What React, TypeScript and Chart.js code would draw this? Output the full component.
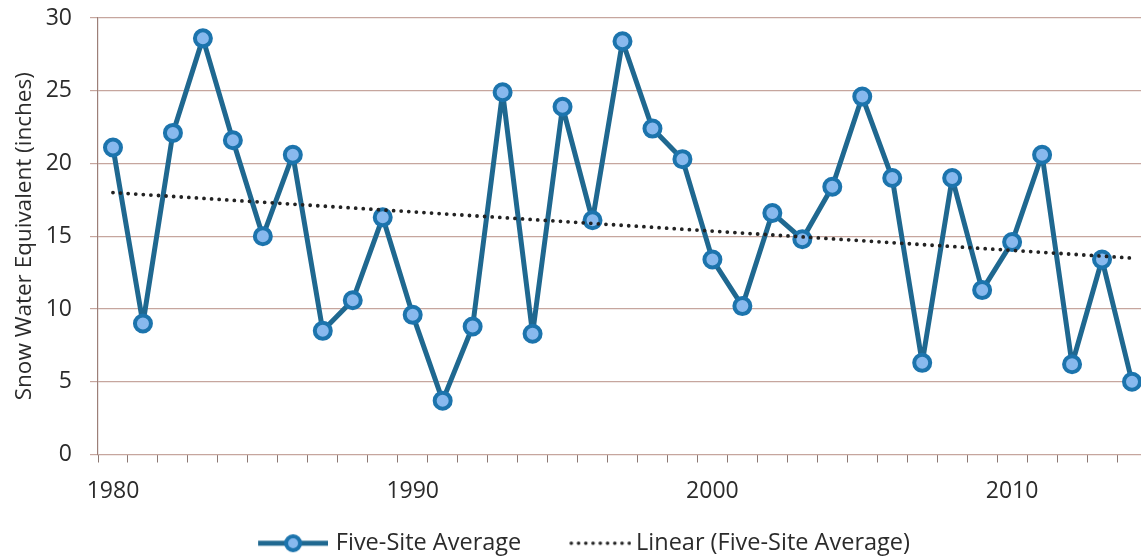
import React, { useEffect, useRef } from "react";
import { Chart, registerables } from "chart.js";

Chart.register(...registerables);

const years: number[] = [
  1980, 1981, 1982, 1983, 1984, 1985, 1986, 1987, 1988, 1989,
  1990, 1991, 1992, 1993, 1994, 1995, 1996, 1997, 1998, 1999,
  2000, 2001, 2002, 2003, 2004, 2005, 2006, 2007, 2008, 2009,
  2010, 2011, 2012, 2013, 2014,
];
const fiveSiteAverage: number[] = [
  21.1, 9.0, 22.1, 28.6, 21.6, 15.0, 20.6, 8.5, 10.6, 16.3,
  9.6, 3.7, 8.8, 24.9, 8.3, 23.9, 16.1, 28.4, 22.4, 20.3,
  13.4, 10.2, 16.6, 14.8, 18.4, 24.6, 19.0, 6.3, 19.0, 11.3,
  14.6, 20.6, 6.2, 13.4, 5.0,
];
const trendYears: number[] = [1980, 2014];
const trendValues: number[] = [18.0, 13.5];
const xLabelYears: number[] = [1980, 1990, 2000, 2010];
const yTicks: number[] = [0, 5, 10, 15, 20, 25, 30];

const LINE_COLOR = "#1f6890";
const POINT_BORDER = "#1c74ad";
const POINT_FILL = "#88b9ee";
const GRID_COLOR = "#c6a69e";
const TEXT_COLOR = "#2b2b2b";
const FONT = "'Open Sans', sans-serif";

const LEGEND_BOX = 99;

function makeSeriesIcon(): HTMLCanvasElement {
  const c = document.createElement("canvas");
  const w = LEGEND_BOX + 7.5;
  c.width = Math.round(w);
  c.height = 24;
  const ctx = c.getContext("2d")!;
  const x1 = c.width;
  const x0 = x1 - 70;
  ctx.strokeStyle = LINE_COLOR;
  ctx.lineWidth = 5;
  ctx.beginPath();
  ctx.moveTo(x0, 12);
  ctx.lineTo(x1, 12);
  ctx.stroke();
  ctx.beginPath();
  ctx.arc((x0 + x1) / 2, 12, 7, 0, Math.PI * 2);
  ctx.fillStyle = POINT_FILL;
  ctx.fill();
  ctx.lineWidth = 4;
  ctx.strokeStyle = POINT_BORDER;
  ctx.stroke();
  return c;
}

function makeTrendIcon(): HTMLCanvasElement {
  const c = document.createElement("canvas");
  c.width = Math.round(LEGEND_BOX + 13.5);
  c.height = 24;
  const ctx = c.getContext("2d")!;
  ctx.fillStyle = "#222";
  const end = c.width - 2;
  for (let i = 0; i < 9; i++) {
    const x = end - 58 + i * 7.25;
    ctx.beginPath();
    ctx.arc(x, 12, 1.8, 0, Math.PI * 2);
    ctx.fill();
  }
  return c;
}

export default function App() {
  const canvasRef = useRef<HTMLCanvasElement | null>(null);

  useEffect(() => {
    if (!canvasRef.current) return;
    Chart.defaults.font.family = FONT;
    Chart.defaults.color = TEXT_COLOR;
    const seriesIcon = makeSeriesIcon();
    const trendIcon = makeTrendIcon();

    const xMin = 1979.5;
    const xMax = 2014.3;

    const chart = new Chart(canvasRef.current, {
      type: "line",
      data: {
        datasets: [
          {
            label: "Five-Site Average",
            data: years.map((y, i) => ({ x: y, y: fiveSiteAverage[i] })),
            borderColor: LINE_COLOR,
            borderWidth: 5,
            borderJoinStyle: "round",
            pointRadius: 8,
            pointBorderWidth: 4,
            pointBackgroundColor: POINT_FILL,
            pointBorderColor: POINT_BORDER,
            tension: 0,
            clip: false as any,
            order: 1,
          },
          {
            label: "Linear (Five-Site Average)",
            data: trendYears.map((y, i) => ({ x: y, y: trendValues[i] })),
            borderColor: "#222",
            borderWidth: 3.8,
            borderDash: [0, 7.6],
            borderCapStyle: "round",
            pointRadius: 0,
            tension: 0,
            order: 0,
          },
        ],
      },
      options: {
        animation: false,
        responsive: false,
        layout: { autoPadding: false, padding: { left: -6, top: 18, right: 0, bottom: -7 } },
        plugins: {
          tooltip: { enabled: false },
          legend: {
            position: "bottom",
            labels: {
              usePointStyle: true,
              pointStyleWidth: LEGEND_BOX,
              padding: 4,
              color: TEXT_COLOR,
              font: { size: 23.5, family: FONT },
              generateLabels: () => [
                {
                  text: "Five-Site Average",
                  pointStyle: seriesIcon as any,
                  fillStyle: POINT_FILL,
                  strokeStyle: LINE_COLOR,
                  lineWidth: 0,
                  hidden: false,
                  datasetIndex: 0,
                  fontColor: TEXT_COLOR,
                } as any,
                {
                  text: "Linear (Five-Site Average)",
                  pointStyle: trendIcon as any,
                  fillStyle: "#222",
                  strokeStyle: "#222",
                  lineWidth: 0,
                  hidden: false,
                  datasetIndex: 1,
                  fontColor: TEXT_COLOR,
                } as any,
              ],
            },
          },
        },
        scales: {
          x: {
            type: "linear",
            min: xMin,
            max: xMax,
            afterBuildTicks: (axis: any) => {
              const t: number[] = [];
              for (let v = xMin; v <= xMax; v += 1) t.push(v);
              xLabelYears.forEach((v) => t.push(v));
              t.sort((a, b) => a - b);
              axis.ticks = t.map((v) => ({ value: v }));
            },
            afterFit: (axis: any) => {
              axis.height = 73;
            },
            border: { display: false },
            grid: {
              drawOnChartArea: false,
              drawTicks: true,
              tickLength: 8,
              tickWidth: 1,
              tickColor: (ctx: any) =>
                ctx.tick && Number.isInteger(ctx.tick.value) ? "rgba(0,0,0,0)" : "#8a7772",
            },
            ticks: {
              autoSkip: false,
              maxRotation: 0,
              padding: 15,
              color: TEXT_COLOR,
              font: { size: 23, family: FONT },
              callback: (v: any) => (xLabelYears.includes(Number(v)) ? String(v) : ""),
            },
          },
          y: {
            type: "linear",
            min: 0,
            max: 30,
            afterBuildTicks: (axis: any) => {
              axis.ticks = yTicks.map((v) => ({ value: v }));
            },
            afterFit: (axis: any) => {
              axis.width = 104;
              axis.paddingTop = 0;
              axis.paddingBottom = 0;
            },
            border: { display: true, color: "#9c7f78", width: 1.2 },
            grid: {
              color: GRID_COLOR,
              lineWidth: 1.2,
              tickLength: 8,
              tickColor: GRID_COLOR,
            },
            ticks: {
              padding: 18,
              color: TEXT_COLOR,
              font: { size: 23, family: FONT },
            },
            title: {
              display: true,
              text: "Snow Water Equivalent (inches)",
              color: TEXT_COLOR,
              font: { size: 22.5, family: FONT },
              padding: { top: 17, bottom: 0 },
            },
          },
        },
      },
    });
    return () => chart.destroy();
  }, []);

  return (
    <div style={{ position: "fixed", left: 0, top: 0, width: 1141, height: 558, background: "#fff" }}>
      <canvas ref={canvasRef} width={1141} height={558} style={{ display: "block" }} />
    </div>
  );
}
